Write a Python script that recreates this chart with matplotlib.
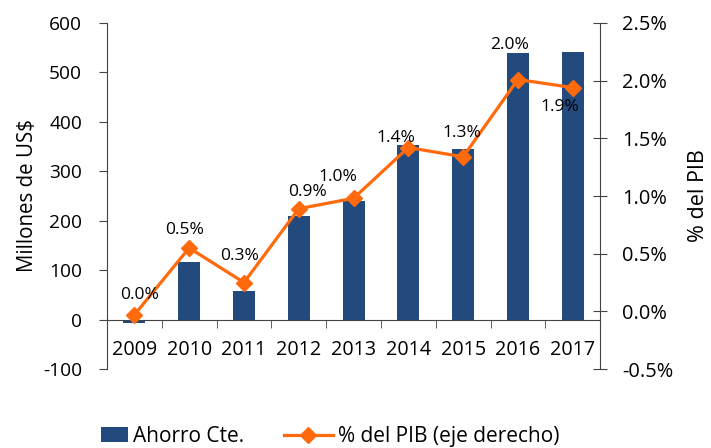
import matplotlib
matplotlib.use("Agg")
import matplotlib.pyplot as plt
from matplotlib.patches import Rectangle
from matplotlib.legend_handler import HandlerPatch
import numpy as np

years = ["2009", "2010", "2011", "2012", "2013", "2014", "2015", "2016", "2017"]
ahorro = [-7, 117, 58, 210, 240, 353, 345, 539, 541]
pib = [-0.03, 0.55, 0.25, 0.89, 0.98, 1.42, 1.34, 2.01, 1.94]
pib_labels = ["0.0%", "0.5%", "0.3%", "0.9%", "1.0%", "1.4%", "1.3%", "2.0%", "1.9%"]

# label offsets in points (dx, dy) relative to each point
label_offsets = [(4, 14), (-3, 13), (-3, 19), (6, 12), (-11, 15), (-9, 7), (-1, 17), (-6, 25), (-9, -14)]

bar_color = "#234A7C"
line_color = "#FF6A0D"

plt.rcParams['font.family'] = ['Open Sans', 'DejaVu Sans']
plt.rcParams['axes.unicode_minus'] = False

fig = plt.figure(figsize=(7.11, 4.48), dpi=100)
ax = fig.add_axes([0.1505, 0.1763, 0.6935, 0.7724])
x = np.arange(len(years))
bars = ax.bar(x, ahorro, width=0.4, color=bar_color, zorder=2)
ax.set_xlim(-0.5, len(years) - 0.5)
ax.set_ylim(-100, 600)
ax.set_yticks(range(-100, 601, 100))
ax.spines['top'].set_visible(False)
ax.spines['right'].set_visible(False)
ax.spines['bottom'].set_position(('data', 0))
for s in ['left', 'bottom']:
    ax.spines[s].set_color('#444444')
ax.set_xticks(x)
ax.set_xticklabels(years)
ax.set_xticks(np.arange(-0.5, len(years), 1), minor=True)
ax.tick_params(axis='x', which='major', length=0, pad=15, labelsize=14.2)
ax.tick_params(axis='x', which='minor', length=6, direction='out', color='#444444')
ax.tick_params(axis='y', length=6, direction='out', labelsize=13.8, pad=12, color='#444444')
ax.set_ylabel("Millones de US$", fontsize=14.8)
ax.yaxis.set_label_coords(-0.140, 0.5)

ax2 = ax.twinx()
ax2.set_ylim(-0.5, 2.5)
ticks2 = np.arange(-0.5, 2.51, 0.5)
ax2.set_yticks(ticks2)
ax2.set_yticklabels([f"{v:.1f}%" for v in ticks2])
for s in ['top', 'left', 'bottom']:
    ax2.spines[s].set_visible(False)
ax2.spines['right'].set_color('#444444')
ax2.tick_params(axis='y', length=10, direction='inout', labelsize=14.4, pad=11, color='#444444')
line, = ax2.plot(x, pib, color=line_color, lw=2.3, marker='D', markersize=8, zorder=3)
ax2.set_ylabel("% del PIB", fontsize=15.5)
ax2.yaxis.set_label_coords(1.178, 0.5)

for i, (v, t) in enumerate(zip(pib, pib_labels)):
    dx, dy = label_offsets[i]
    ax2.annotate(t, (x[i], v), xytext=(dx, dy), textcoords='offset points',
                 ha='center', va='center', fontsize=12.5)


def small_patch(legend, orig_handle, xdescent, ydescent, width, height, fontsize):
    return Rectangle((-xdescent + width * 0.45, -ydescent), width * 0.55, height)


proxy = Rectangle((0, 0), 1, 1, facecolor=bar_color, edgecolor='none')
fig.legend([proxy, line], ["Ahorro Cte.", "% del PIB (eje derecho)"],
           loc='center', bbox_to_anchor=(0.449, 0.026), ncol=2, frameon=False,
           fontsize=15, handlelength=2.35, columnspacing=1.9, handletextpad=0.25,
           handler_map={proxy: HandlerPatch(patch_func=small_patch)})

fig.savefig("out.png", dpi=100)
